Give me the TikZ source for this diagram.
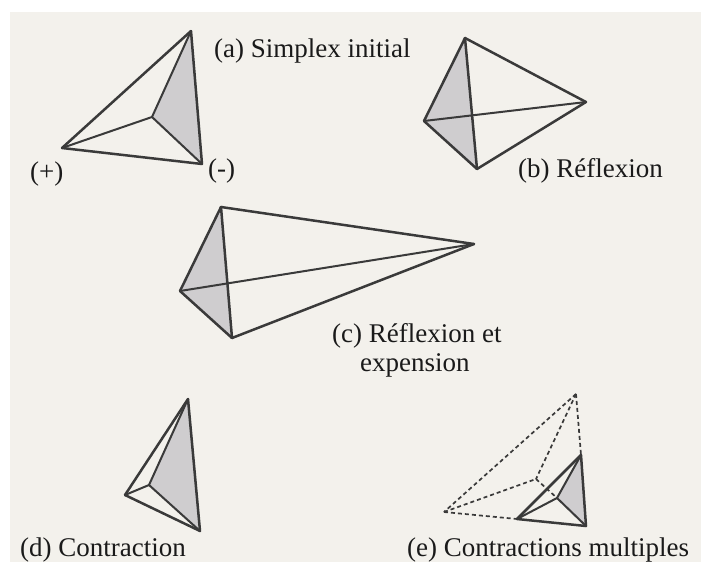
\documentclass[tikz,border=0pt]{standalone}
\usepackage{fontspec}
\setmainfont{Liberation Serif}
\usepackage{xcolor}
\definecolor{Paper}{HTML}{F3F1EC}
\definecolor{Shade}{HTML}{CFCDCF}
\definecolor{Edge}{HTML}{3A3A3A}
\definecolor{Ink}{HTML}{1A1A1A}
\tikzset{
  shaded/.style={fill=Shade},
  edge/.style={draw=Edge,line width=2.5pt,line cap=round,line join=round},
  thinedge/.style={edge,line width=2pt},
  oldedge/.style={draw=Edge,line width=1.7pt,dash pattern=on 4pt off 3pt},
  caption/.style={anchor=base west,inner sep=0pt,text=Ink,font=\fontsize{27}{32}\selectfont}
}
\begin{document}
\begin{tikzpicture}[x=1pt,y=-1pt]
  \useasboundingbox (0,0) rectangle (701,562);
  \fill[Paper] (10,12) rectangle (701,562);
  % (a) initial
  \coordinate (atop) at (191,31);
  \coordinate (aleft) at (62,148);
  \coordinate (aright) at (202,164);
  \coordinate (amid) at (152,117);
  \fill[shaded] (atop) -- (amid) -- (aright) -- cycle;
  \draw[edge] (atop) -- (aleft);
  \draw[edge] (atop) -- (aright);
  \draw[edge] (aleft) -- (aright);
  \draw[thinedge] (amid) -- (atop);
  \draw[thinedge] (amid) -- (aleft);
  \draw[thinedge] (amid) -- (aright);
  \node[caption] (acap) at (214,57) {(a) Simplex initial};
  \node[caption] (plus) at (30,180) {(+)};
  \node[caption] (minus) at (208,177) {(-)};
  % (b) reflection
  \coordinate (btop) at (465,38);
  \coordinate (bleft) at (424,121);
  \coordinate (bbot) at (477,169);
  \coordinate (bright) at (586,102);
  \fill[shaded] (btop) -- (bleft) -- (bbot) -- cycle;
  \draw[edge] (btop) -- (bleft);
  \draw[edge] (btop) -- (bright);
  \draw[edge] (bleft) -- (bbot);
  \draw[edge] (bbot) -- (bright);
  \draw[edge] (btop) -- (bbot);
  \draw[thinedge] (bleft) -- (bright);
  \node[caption] (bcap) at (518,177) {(b) Réflexion};
  % (c) expansion
  \coordinate (ctop) at (221,207);
  \coordinate (cleft) at (180,291);
  \coordinate (cbot) at (232,338);
  \coordinate (cright) at (474,244);
  \fill[shaded] (ctop) -- (cleft) -- (cbot) -- cycle;
  \draw[edge] (ctop) -- (cleft);
  \draw[edge] (ctop) -- (cright);
  \draw[edge] (cleft) -- (cbot);
  \draw[edge] (cbot) -- (cright);
  \draw[edge] (ctop) -- (cbot);
  \draw[thinedge] (cleft) -- (cright);
  \node[caption] (ccap) at (332,342) {(c) Réflexion et};
  \node[caption] (ccap2) at (360,371) {expension};
  % (d) contraction
  \coordinate (dtop) at (188,399);
  \coordinate (dleft) at (125,495);
  \coordinate (dbot) at (200,531);
  \coordinate (dmid) at (149,485);
  \fill[shaded] (dtop) -- (dmid) -- (dbot) -- cycle;
  \draw[edge] (dtop) -- (dleft);
  \draw[edge] (dtop) -- (dbot);
  \draw[edge] (dleft) -- (dbot);
  \draw[thinedge] (dmid) -- (dtop);
  \draw[thinedge] (dmid) -- (dleft);
  \draw[thinedge] (dmid) -- (dbot);
  \node[caption] (dcap) at (20,556) {(d) Contraction};
  % (e) multiple contractions
  \coordinate (etop) at (576,394);
  \coordinate (eleft) at (444,512);
  \coordinate (emid) at (536,479);
  \coordinate (stop) at (581,455);
  \coordinate (sleft) at (517,519);
  \coordinate (sbot) at (586,526);
  \coordinate (smid) at (557,498);
  \fill[shaded] (stop) -- (smid) -- (sbot) -- cycle;
  \draw[oldedge] (etop) -- (eleft);
  \draw[oldedge] (etop) -- (emid);
  \draw[oldedge] (etop) -- (stop);
  \draw[oldedge] (eleft) -- (emid);
  \draw[oldedge] (eleft) -- (sleft);
  \draw[oldedge] (emid) -- (smid);
  \draw[edge] (stop) -- (sleft);
  \draw[edge] (stop) -- (sbot);
  \draw[edge] (sleft) -- (sbot);
  \draw[thinedge] (smid) -- (stop);
  \draw[thinedge] (smid) -- (sleft);
  \draw[thinedge] (smid) -- (sbot);
  \node[caption] (ecap) at (407,556) {(e) Contractions multiples};
\end{tikzpicture}
\end{document}
